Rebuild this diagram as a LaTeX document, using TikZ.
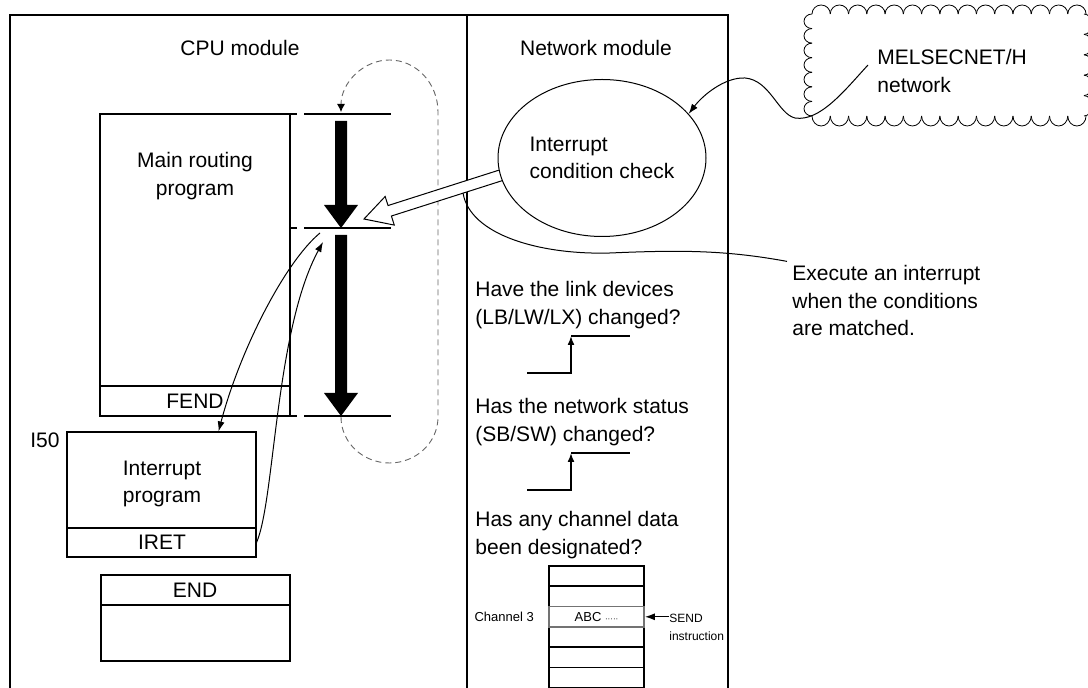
\documentclass[tikz,border=0pt]{standalone}
\usepackage{fontspec}
\setmainfont{Liberation Sans}
\usetikzlibrary{shapes.geometric, arrows.meta, positioning, fit, calc}

\begin{document}
\begin{tikzpicture}[
    x=0.5pt, y=-0.5pt,
    font=\fontsize{10.5}{13.75}\selectfont,
    frame/.style={draw, line width=0.85pt},
    box/.style={draw, line width=0.55pt, inner sep=0pt},
    head/.style={inner sep=0pt, align=center},
    note/.style={inner sep=0pt, align=left},
    small/.style={inner sep=0pt, align=left, font=\fontsize{6}{9}\selectfont},
    row/.style={draw, line width=0.8pt, minimum width=47.5pt, minimum height=10.2pt, inner sep=0pt},
    line/.style={draw, line width=0.5pt, -{Latex[length=5pt, width=3.5pt]}},
    scan/.style={draw, line width=1pt},
    wave/.style={draw, line width=0.8pt},
    scanloop/.style={draw=black!60, line width=0.45pt, dash pattern=on 3pt off 2pt}
]
    \useasboundingbox (0,0) rectangle (1088,688);

    % Modules
    \draw[frame] (10,700) |- (728,15) -- (728,700);
    \draw[frame] (467,15) -- (467,700);
    \node[head] (cpu) at (240,48) {CPU module};
    \node[head] (netmod) at (596,48) {Network module};

    % Programs
    \node[box, fit={(100,114) (290,416)}] (mainbox) {};
    \draw[box] (100,386) -- (290,386);
    \foreach \y in {114,228,416}
        \draw[box] (290,\y) -- (297,\y);
    \node[head] (main) at (195,176) {Main routing\\program};
    \node[head] (fend) at (195,401) {FEND};

    \node[box, fit={(67,432) (256,557)}] (irqbox) {};
    \draw[box] (67,528) -- (256,528);
    \node[head] (irq) at (162,484) {Interrupt\\program};
    \node[head] (iret) at (162,542.5) {IRET};
    \node[head] (i50) at (45,440) {I50};

    \node[box, fit={(101,575) (290,661)}] (endbox) {};
    \draw[box] (101,605) -- (290,605);
    \node[head] (endtxt) at (195,590) {END};

    % Scan
    \foreach \y in {114,228,416}
        \draw[scan] (304,\y) -- (391,\y);
    \foreach \ya/\yb in {121/228,235/416}
        \fill (335,\ya) -- (347,\ya) -- (347,\yb-23) -- (358,\yb-23)
            -- (341,\yb) -- (324,\yb-23) -- (335,\yb-23) -- cycle;
    \coordinate (scanend) at (341,417);
    \draw[scanloop, -{Latex[length=4pt, width=4pt, color=black]}] (scanend)
        arc[start angle=180, end angle=0, x radius=48.5, y radius=46]
        -- (438,112) arc[start angle=0, end angle=-180, x radius=48.5, y radius=52];

    % Interrupt call and return
    \coordinate (jumpout) at (320,233);
    \coordinate (jumpback) at (323,242);
    \draw[line] (jumpout) .. controls (285,262) and (240,350) .. ($(irqbox.north west)!0.8!(irqbox.north east)$);
    \draw[line] (irqbox.east |- iret) .. controls (275,500) and (275,330) .. (jumpback);

    % Interrupt request
    \coordinate (hit) at (364,219);
    \begin{scope}[shift={(hit)}, rotate=17.7]
        \draw[fill=white, line width=0.5pt] (0,0) -- (27,-15) -- (27,-5.5) -- (150,-5.5)
            -- (150,5.5) -- (27,5.5) -- (27,15) -- cycle;
    \end{scope}
    \node[ellipse, draw, fill=white, line width=0.5pt, minimum width=104pt, minimum height=78.5pt,
        inner sep=0pt, align=left] (cond) at (602,158) {Interrupt\\condition check};

    \coordinate (chk) at (463,193);
    \node[note, anchor=west] (exec) at (792,301) {Execute an interrupt\\when the conditions\\are matched.};
    \draw[line width=0.5pt] (chk) .. controls (470,235) and (540,255) .. (610,253)
        .. controls (680,250) and (725,250) .. ([xshift=-2.5pt, yshift=2pt]exec.north west);

    % Network
    \foreach \i in {0,...,14} {
        \draw (812+\i*18.27,14) arc[start angle=180, end angle=360, x radius=9.135, y radius=9];
        \draw (812+\i*18.27,116) arc[start angle=180, end angle=0, x radius=9.135, y radius=10];
    }
    \foreach \i in {0,...,6}
        \draw (812,14+\i*14.57) arc[start angle=270, end angle=90, x radius=8, y radius=7.285];
    \foreach \i in {0,...,4}
        \draw (1084,14+\i*20.4) arc[start angle=270, end angle=450, x radius=8, y radius=10.2];
    \node[note, anchor=west] (melsec) at (877,71) {MELSECNET/H\\network};
    \coordinate (netpt) at (868,65);
    \draw[line] (netpt) .. controls (845,90) and (820,122) .. (795,118)
        .. controls (778,114) and (770,80) .. (745,78)
        .. controls (725,77) and (703,95) .. (cond.27);

    % Conditions
    \node[note, anchor=west] (linkq) at (475,305) {Have the link devices\\(LB/LW/LX) changed?};
    \node[note, anchor=west] (statq) at (475,422) {Has the network status\\(SB/SW) changed?};
    \node[note, anchor=west] (chanq) at (475,535) {Has any channel data\\been designated?};
    \foreach \d in {0,117} {
        \draw[wave, -{Latex[length=4.5pt, width=3.5pt]}] (527,373+\d) -| (571,336+\d);
        \draw[wave] (571,336+\d) -- (630,336+\d);
    }

    % Channel table
    \foreach \i in {1,2,4,5,6}
        \node[row] (row\i) at (596.5,555.8+\i*20.33) {};
    \node[row, draw=black!55, font=\fontsize{6.5}{8}\selectfont] (row3) at (596.5,616.8)
        {ABC {\fontsize{4}{4}\selectfont·····}};
    \node[small, font=\fontsize{6.5}{9}\selectfont, left=7pt of row3] (chlabel) {Channel 3};
    \node[small, anchor=west] (send) at (669,627) {SEND\\instruction};
    \draw[line, line width=0.7pt] (send.west |- row3.east) -- (row3.east);
\end{tikzpicture}
\end{document}
